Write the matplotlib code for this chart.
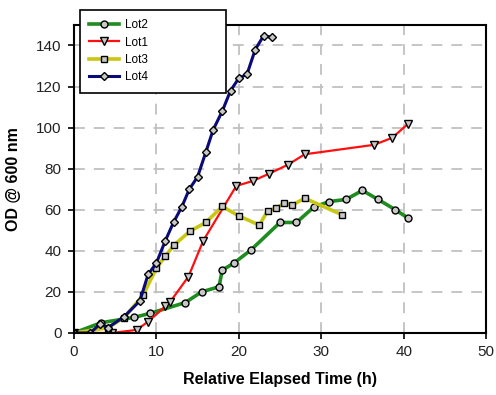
import matplotlib
matplotlib.use("Agg")
import matplotlib.pyplot as plt

plt.rcParams['font.family'] = ['Liberation Sans', 'DejaVu Sans']

# Lot2 (green, circles)
lot2_t = [0, 3.3, 7.3, 9.2, 13.5, 15.5, 17.6, 18.0, 19.4, 21.5, 25.0, 27.0,
          29.1, 31.0, 33.0, 35.0, 36.9, 39.0, 40.5]
lot2_od = [0, 5, 7.6, 9.5, 14.8, 20, 22.5, 30.6, 34, 40.5, 53.8, 53.8,
           61.3, 64, 65, 69.4, 65, 60, 56]

# Lot1 (red, triangles)
lot1_t = [0, 4.6, 7.6, 9.0, 11.1, 11.65, 13.9, 15.7, 19.7, 21.7, 23.7, 26.0,
          28.0, 36.4, 38.6, 40.5]
lot1_od = [0, 0, 1.5, 5.5, 13, 15, 27.5, 45, 71.6, 74, 77.6, 82,
           87, 91.6, 95, 101.7]

# Lot3 (yellow, squares)
lot3_t = [0, 4.1, 6.1, 8.4, 10.0, 11.1, 12.2, 14.1, 16.0, 18.0, 20.0, 22.5,
          23.5, 24.5, 25.5, 26.5, 28.0, 32.5]
lot3_od = [0, 2.5, 7.5, 18.5, 31.5, 37.5, 43, 49.6, 53.8, 61.6, 57, 52.5,
           59.5, 60.7, 63.2, 62.3, 65.6, 57.6]

# Lot4 (navy, diamonds)
lot4_t = [0, 2.0, 3.2, 4.1, 6.1, 8.0, 9.0, 10.0, 11.1, 12.1, 13.1, 14.0,
          15.0, 16.0, 16.9, 18.0, 19.0, 20.0, 21.0, 22.0, 23.0, 24.0]
lot4_od = [0, 0, 4.5, 2.5, 8, 15.6, 28.5, 34, 45, 54, 61.5, 70,
           76, 88, 99, 108, 118, 124, 126, 138, 144.6, 144]

fig = plt.figure(figsize=(4.96, 3.95), dpi=100)
ax = fig.add_axes([0.149, 0.157, 0.831, 0.78])

mk = dict(markerfacecolor='#c8c8c8', markeredgecolor='black', markeredgewidth=1.0)
ax.plot(lot2_t, lot2_od, color='#1e8c1e', lw=2.6, marker='o', ms=5, label='Lot2', **mk)
ax.plot(lot1_t, lot1_od, color='#ff1010', lw=1.6, marker='v', ms=5.5, label='Lot1', **mk)
ax.plot(lot3_t, lot3_od, color='#c8c814', lw=2.6, marker='s', ms=4.8, label='Lot3', **mk)
ax.plot(lot4_t, lot4_od, color='#0a0a78', lw=2.2, marker='D', ms=4.5, label='Lot4', **mk)

ax.set_xlim(0, 50)
ax.set_ylim(0, 150)
ax.set_xticks(range(0, 51, 10))
ax.set_yticks(range(0, 141, 20))
ax.grid(True, color='#c0c0c0', linestyle=(0, (6, 5)), linewidth=1.3)
ax.set_axisbelow(True)
for s in ax.spines.values():
    s.set_linewidth(1.5)
ax.tick_params(direction='out', length=4, width=1.2, labelsize=11, pad=5,
               labelcolor='#222222')

ax.set_xlabel('Relative Elapsed Time (h)', fontsize=11.5, fontweight='bold', labelpad=9)
ax.set_ylabel('OD @ 600 nm', fontsize=11.5, fontweight='bold', labelpad=11)

leg = ax.legend(loc='upper left', bbox_to_anchor=(0.161, 0.777, 0.294, 0.198),
                bbox_transform=fig.transFigure, mode='expand', borderaxespad=0,
                fancybox=False, edgecolor='black', framealpha=1, fontsize=8.5,
                handlelength=2.5, handletextpad=0.5, labelspacing=0.45,
                borderpad=0.8)
leg.get_frame().set_linewidth(1.2)

fig.savefig('out.png', dpi=100)
